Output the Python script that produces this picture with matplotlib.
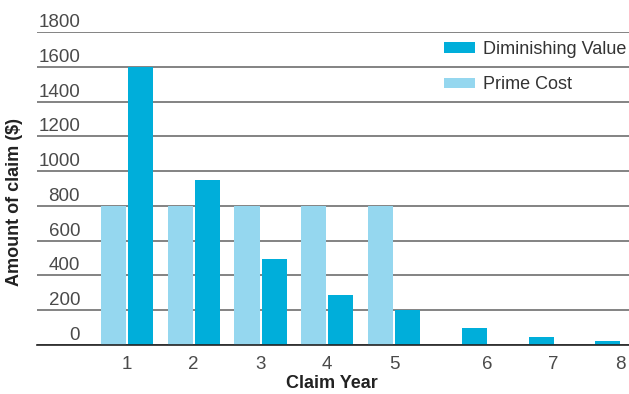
import matplotlib
matplotlib.use("Agg")
import matplotlib.pyplot as plt
import matplotlib.transforms as mtransforms
import numpy as np

plt.rcParams['font.family'] = ['Liberation Sans', 'DejaVu Sans']

years = [1, 2, 3, 4, 5, 6, 7, 8]
year_labels = ['1', '2', '3', '4', '5', '6', '7', '8']
prime_cost = [800, 800, 800, 800, 800, 0, 0, 0]
diminishing_value = [1600, 950, 495, 288, 200, 98, 46, 23]
y_ticks = [0, 200, 400, 600, 800, 1000, 1200, 1400, 1600, 1800]

DV_COLOR = '#00AEDA'
PC_COLOR = '#95D7EF'

fig = plt.figure(figsize=(6.29, 3.94), dpi=100)
ax = fig.add_axes([37/629, 49/394, 592/629, 313/394])

x = np.array(years, dtype=float)
w = 0.375
off = 0.2025
pc_x = [xi - off for xi, v in zip(x, prime_cost) if v > 0]
pc_v = [v for v in prime_cost if v > 0]
ax.bar(pc_x, pc_v, width=w, color=PC_COLOR, label='Prime Cost', zorder=3)
ax.bar(x + off, diminishing_value, width=w, color=DV_COLOR,
       label='Diminishing Value', zorder=3)

ax.set_xlim(-0.348, 8.52)
ax.set_ylim(0, 1800)

# tick positions: centred for 1-5, at right edge of bar for 6-8
tick_pos = [xi if xi <= 5 else xi + off + w/2 for xi in x]
ax.set_xticks(tick_pos)
ax.set_xticklabels(year_labels)
ax.tick_params(axis='x', length=0, pad=8, labelsize=13.5, labelcolor='#4a4a4a')

ax.set_yticks(y_ticks)
ax.set_yticklabels([str(t) for t in y_ticks])
ax.tick_params(axis='y', length=0, pad=-31, labelsize=13.5, labelcolor='#4a4a4a')
shift = mtransforms.ScaledTranslation(0, 5/100, fig.dpi_scale_trans)
for lab in ax.get_yticklabels():
    lab.set_verticalalignment('baseline')
    lab.set_transform(lab.get_transform() + shift)

ax.grid(axis='y', color='#6e6e6e', linewidth=1.2, zorder=1)
ax.set_axisbelow(True)
for s in ['left', 'right', 'top']:
    ax.spines[s].set_visible(False)
ax.spines['bottom'].set_color('#222222')
ax.spines['bottom'].set_linewidth(1.2)
ax.spines['bottom'].set_zorder(4)

fig.text(332/629, 1 - 383/394, 'Claim Year', ha='center', va='center',
         fontsize=13, fontweight='bold', color='#222222')
fig.text(15/629, 1 - 202/394, 'Amount of claim ($)', ha='center', va='center',
         rotation=90, fontsize=13, fontweight='bold', color='#222222')

handles, labels = ax.get_legend_handles_labels()
order = [1, 0]
leg = ax.legend([handles[i] for i in order], [labels[i] for i in order],
                loc='upper left', bbox_to_anchor=(444/629, 1 - 41/394),
                bbox_transform=fig.transFigure, frameon=False,
                fontsize=13, handlelength=1.72, handleheight=0.5,
                handletextpad=0.44, labelspacing=1.02,
                borderpad=0, borderaxespad=0)
for t in leg.get_texts():
    t.set_color('#333333')

fig.savefig('out.png', dpi=100)
